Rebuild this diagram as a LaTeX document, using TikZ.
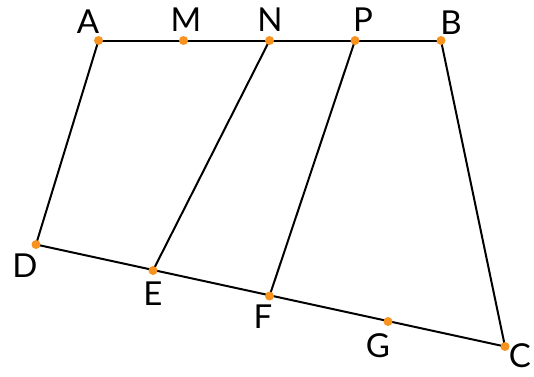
\documentclass[tikz,border=0pt]{standalone}
\usepackage{fontspec}
\setmainfont{Lato}
\definecolor{dotorange}{HTML}{F7931E}
\begin{document}
\begin{tikzpicture}[x=1pt,y=-1pt,
  pt/.style={circle,fill=dotorange,inner sep=0pt,minimum size=9pt},
  seg/.style={line width=2pt,black},
  lab/.style={font=\fontsize{33}{33}\selectfont,inner sep=0pt,anchor=center}]
\useasboundingbox (0,0) rectangle (534,376);
\coordinate (A) at (98.5,40.5);
\coordinate (M) at (183.5,40.5);
\coordinate (N) at (269.5,40.5);
\coordinate (P) at (355,40.5);
\coordinate (B) at (441,40.5);
\coordinate (D) at (36,244.5);
\coordinate (E) at (153,270.5);
\coordinate (F) at (269.5,296);
\coordinate (G) at (388,321.5);
\coordinate (C) at (505,346.5);
\draw[seg] (A) -- (B);
\draw[seg] (A) -- (D);
\draw[seg] (N) -- (E);
\draw[seg] (P) -- (F);
\draw[seg] (B) -- (C);
\draw[seg] (D) -- (C);
\foreach \p in {A,M,N,P,B,D,E,F,G,C} \node[pt] (d\p) at (\p) {};
\node[lab] (lA) at (88,22) {A};
\node[lab] (lM) at (186,20) {M};
\node[lab] (lN) at (270,20) {N};
\node[lab] (lP) at (363,20) {P};
\node[lab] (lB) at (451,23) {B};
\node[lab] (lD) at (25,266) {D};
\node[lab] (lE) at (153,294) {E};
\node[lab] (lF) at (263,317) {F};
\node[lab] (lG) at (378,346) {G};
\node[lab] (lC) at (520,356) {C};
\end{tikzpicture}
\end{document}
